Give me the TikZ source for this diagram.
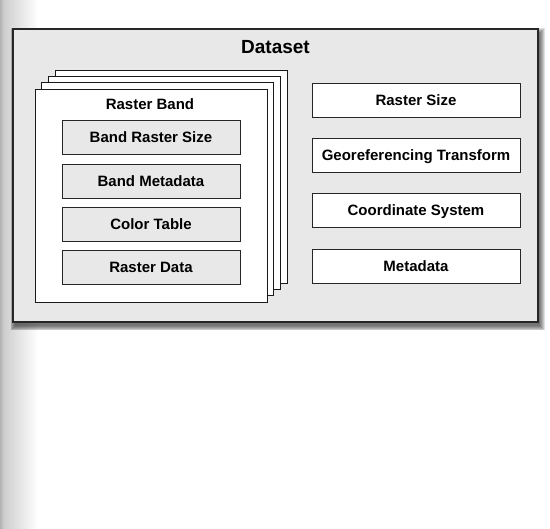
\documentclass[tikz,border=0pt]{standalone}
\usepackage{fontspec}
\setmainfont{Liberation Sans}
\tikzset{
  label text/.style={font=\fontsize{15}{18}\selectfont\bfseries, text height=10.7pt, text depth=0pt},
  box/.style={label text, draw=black!85, line width=0.95pt, minimum height=34pt, inner sep=0pt},
  bandbox/.style={box, fill=black!9, minimum width=178pt},
  infobox/.style={box, fill=white, minimum width=208pt},
  page/.style={draw=black!90, line width=0.95pt, fill=white, minimum width=232pt,
    minimum height=213pt, inner sep=0pt},
}
\newcommand{\rasterpage}[2]{%
  \node[page] (#2) at ({151+\pagestep*#1},{195.5-\pagerise*#1}) {};%
}

\begin{document}
\begin{tikzpicture}[x=1pt,y=-1pt,thick]
  \pgfmathsetmacro{\pagestep}{6.7}
  \pgfmathsetmacro{\pagerise}{6.3}
  \useasboundingbox (0,0) rectangle (550,529);
  %
  \shade[left color=black!30, right color=black!19] (0,0) rectangle (4,529);
  \shade[left color=black!19, right color=white] (4,0) rectangle (38,529);
  %
  % soft shadow under the dataset box
  \foreach \g in {0,1,...,5}
    \fill[black, opacity=0.12] ({13+2-\g*0.9},{29+4-\g*0.9}) rectangle ({538+2+\g*0.9},{322+4+\g*0.9});
  \node[draw=black!85, line width=1.1pt, fill=black!9, minimum width=525pt,
    minimum height=293pt, inner sep=0pt] (dataset) at (275.5,175.5) {};
  \node[font=\fontsize{19}{22}\selectfont\bfseries, text height=13.6pt, text depth=0pt]
    (title) at (275.5,47) {Dataset};
  %
  \rasterpage{3}{page3}                   % back of the stack
  \rasterpage{2}{page2}
  \rasterpage{1}{page1}
  \rasterpage{0}{band}                    % front page
  \node[label text] (bandtitle) at (150,104.5) {Raster Band};
  %
  \node[bandbox] (bandsize) at (151,137.5) {Band Raster Size};
  \node[bandbox] (bandmeta) at (151,181)   {Band Metadata};
  \node[bandbox] (colortab) at (151,224)   {Color Table};
  \node[bandbox] (rastdata) at (151,267.5) {Raster Data};
  %
  \node[infobox] (rastsize) at (416,100)   {Raster Size};
  \node[infobox] (georef)   at (416,155)   {Georeferencing Transform};
  \node[infobox] (coordsys) at (416,210.5) {Coordinate System};
  \node[infobox] (metadata) at (416,266)   {Metadata};
\end{tikzpicture}
\end{document}
